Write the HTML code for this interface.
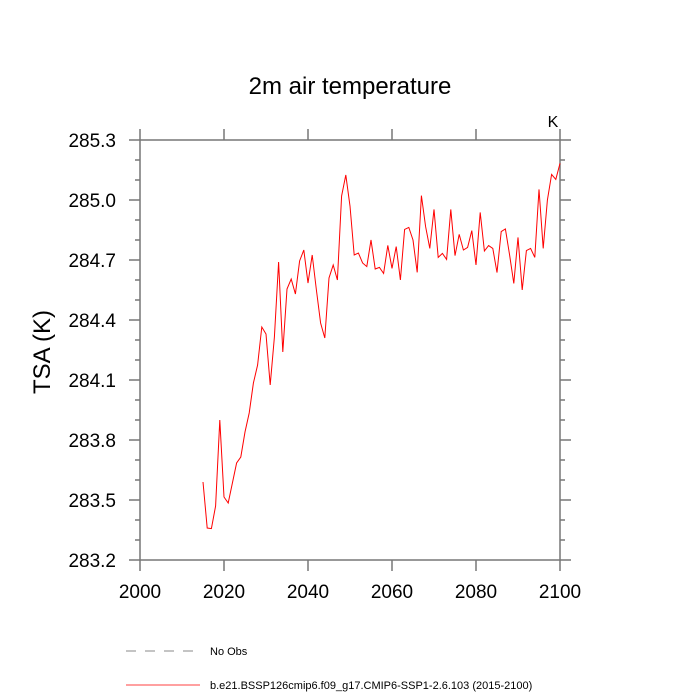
<!DOCTYPE html>
<html><head><meta charset="utf-8"><style>
body{margin:0;background:#fff}
svg{display:block;font-family:"Liberation Sans",sans-serif}
</style></head><body>
<svg id="chart" width="700" height="700" viewBox="0 0 700 700">
<text x="350" y="94" font-size="24" text-anchor="middle">2m air temperature</text>
<text x="553" y="127" font-size="16" text-anchor="middle">K</text>
<text transform="translate(50,352) rotate(-90)" font-size="24" text-anchor="middle">TSA  (K)</text>
<g id="axes"></g>
<path id="series" fill="none" stroke="#ff0000" stroke-width="1"></path>
<g>
<line x1="126" y1="651" x2="200" y2="651" stroke="#888" stroke-width="1" stroke-dasharray="10,9"/>
<text x="210" y="655" font-size="11">No Obs</text>
<line x1="126" y1="685" x2="200" y2="685" stroke="#ff0000" stroke-width="0.8"/>
<text x="210" y="689" font-size="11">b.e21.BSSP126cmip6.f09_g17.CMIP6-SSP1-2.6.103 (2015-2100)</text>
</g>
</svg>
<script>
const years = [];
for (let y = 2015; y <= 2100; y++) years.push(y);
const tsaValues = [283.59,283.36,283.357,283.47,283.90,283.515,283.485,283.585,283.685,283.715,
283.84,283.935,284.085,284.175,284.365,284.33,284.075,284.315,284.69,284.24,
284.555,284.605,284.53,284.695,284.75,284.585,284.725,284.55,284.385,284.31,
284.61,284.675,284.60,285.02,285.125,284.97,284.725,284.735,284.685,284.667,
284.80,284.655,284.663,284.633,284.773,284.658,284.767,284.60,284.853,284.863,
284.80,284.638,285.022,284.867,284.758,284.953,284.713,284.733,284.703,284.953,
284.722,284.828,284.75,284.763,284.847,284.675,284.938,284.745,284.772,284.758,
284.637,284.842,284.855,284.725,284.583,284.813,284.55,284.747,284.758,284.713,
285.053,284.758,285.00,285.128,285.103,285.183];
const xTicks = [2000,2020,2040,2060,2080,2100];
const yTicks = [283.2,283.5,283.8,284.1,284.4,284.7,285.0,285.3];
const yTickLabels = ["283.2","283.5","283.8","284.1","284.4","284.7","285.0","285.3"];

const X0=140,X1=560,Y0=140,Y1=560;
const xMin=2000,xMax=2100,yMin=283.2,yMax=285.3;
const sx=v=>X0+(v-xMin)/(xMax-xMin)*(X1-X0);
const sy=v=>Y1-(v-yMin)/(yMax-yMin)*(Y1-Y0);
const NS="http://www.w3.org/2000/svg";
const g=document.getElementById('axes');
function mk(tag,attrs){const e=document.createElementNS(NS,tag);for(const k in attrs)e.setAttribute(k,attrs[k]);g.appendChild(e);return e;}
const ax='#777';
const frame=mk('rect',{x:X0,y:Y0,width:X1-X0,height:Y1-Y0,fill:'none',stroke:ax,'stroke-width':1.5});


xTicks.forEach(t=>{
  const x=sx(t);
  const a=mk('line',{x1:x,y1:Y1,x2:x,y2:Y1+11,stroke:ax,'stroke-width':1.5});
  
  
  const b=mk('line',{x1:x,y1:Y0,x2:x,y2:Y0-11,stroke:ax,'stroke-width':1.5});
  
  
  const l=mk('text',{x:x,y:Y1+38,'font-size':19,'text-anchor':'middle'});
  l.textContent=t;
  
  
});
for(let i=0;i<=21;i++){
  const v=yMin+i*0.1, y=sy(v), major=i%3===0, len=major?11:5;
  const a=mk('line',{x1:X0-len,y1:y,x2:X0,y2:y,stroke:ax,'stroke-width':1.5});
  
  
  const b=mk('line',{x1:X1,y1:y,x2:X1+len,y2:y,stroke:ax,'stroke-width':1.5});
  
  
}
yTicks.forEach((t,i)=>{
  const l=mk('text',{x:X0-24,y:sy(t)+7,'font-size':19,'text-anchor':'end'});
  l.textContent=yTickLabels[i];
  
  
});
document.getElementById('series').setAttribute('d',
  tsaValues.map((v,i)=>(i?'L':'M')+sx(years[i]).toFixed(2)+','+sy(v).toFixed(2)).join(''));
</script>
</body></html>
